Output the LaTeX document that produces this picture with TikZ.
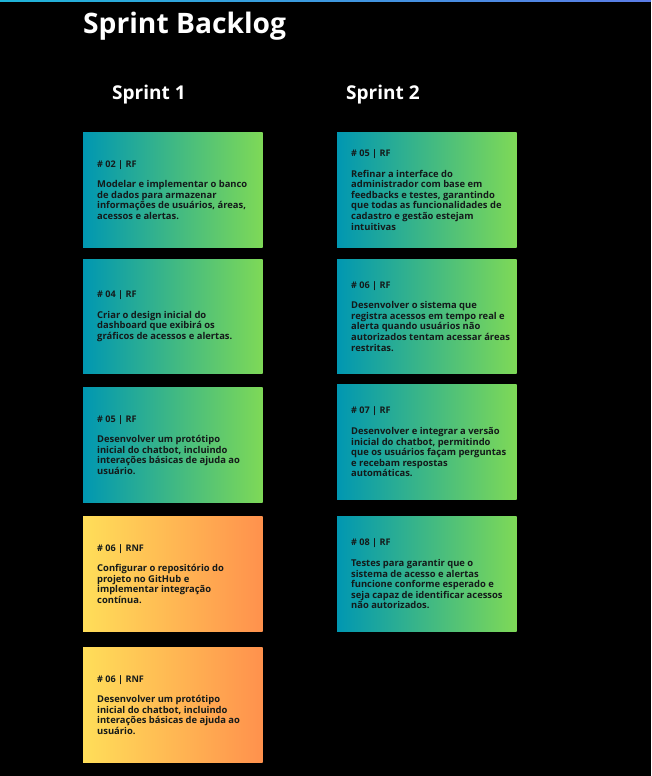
\documentclass[tikz,border=0pt]{standalone}
\usepackage{fontspec}
\setmainfont{Open Sans}
\definecolor{gA}{HTML}{0097B2}
\definecolor{gB}{HTML}{7ED957}
\definecolor{oA}{HTML}{FFDE59}
\definecolor{oB}{HTML}{FF914D}
\definecolor{lnA}{HTML}{1FB4D8}
\definecolor{lnB}{HTML}{5B7CE6}
\definecolor{ink}{HTML}{141A1A}
\tikzset{
  cardbox/.style={rectangle, anchor=north west, minimum width=179.5pt, minimum height=114.5pt, inner sep=0pt, outer sep=0pt, draw=none},
  greencard/.style={cardbox, left color=gA, right color=gB},
  orangecard/.style={cardbox, left color=oA, right color=oB},
  cardtext/.style={anchor=west, align=left, inner sep=0pt, text=ink, font=\fontsize{9.4}{10.6}\selectfont\bfseries},
  headtext/.style={anchor=base west, inner sep=0pt, text=white, font=\fontsize{19}{22}\selectfont\bfseries},
}
\newcommand{\hdr}[1]{{\fontsize{9.1}{10.6}\selectfont #1}\\[10pt]}
\begin{document}
\begin{tikzpicture}[x=1pt,y=-1pt]
\fill[black] (0,0) rectangle (651,776);
\useasboundingbox (0,0) rectangle (651,776);
\shade[left color=lnA, right color=lnB] (0,0) rectangle (651,1.6);
\node[anchor=base west, inner sep=0pt, text=white, font=\fontsize{28.2}{32}\selectfont\bfseries] (title) at (83,34) {Sprint Backlog};
\node[headtext] (s1) at (112,99.5) {Sprint 1};
\node[headtext] (s2) at (346,99.5) {Sprint 2};
% Sprint 1
\node[greencard] (a1) at (83,132.7) {};
\node[cardtext] (ta1) at ([xshift=14pt]a1.west) {\hdr{\# 02 | RF}Modelar e implementar o banco\\de dados para armazenar\\informações de usuários, áreas,\\acessos e alertas.};
\node[greencard] (a2) at (83,259) {};
\node[cardtext] (ta2) at ([xshift=14pt]a2.west) {\hdr{\# 04 | RF}Criar o design inicial do\\dashboard que exibirá os\\gráficos de acessos e alertas.};
\node[greencard] (a3) at (83,387.7) {};
\node[cardtext] (ta3) at ([xshift=14pt]a3.west) {\hdr{\# 05 | RF}Desenvolver um protótipo\\inicial do chatbot, incluindo\\interações básicas de ajuda ao\\usuário.};
\node[orangecard] (a4) at (83,516.7) {};
\node[cardtext] (ta4) at ([xshift=14pt]a4.west) {\hdr{\# 06 | RNF}Configurar o repositório do\\projeto no GitHub e\\implementar integração\\contínua.};
\node[orangecard] (a5) at (83,647.7) {};
\node[cardtext] (ta5) at ([xshift=14pt]a5.west) {\hdr{\# 06 | RNF}Desenvolver um protótipo\\inicial do chatbot, incluindo\\interações básicas de ajuda ao\\usuário.};
% Sprint 2
\node[greencard] (b1) at (337,132.7) {};
\node[cardtext] (tb1) at ([xshift=14pt]b1.west) {\hdr{\# 05 | RF}Refinar a interface do\\administrador com base em\\feedbacks e testes, garantindo\\que todas as funcionalidades de\\cadastro e gestão estejam\\intuitivas};
\node[greencard] (b2) at (337,259) {};
\node[cardtext] (tb2) at ([xshift=14pt]b2.west) {\hdr{\# 06 | RF}Desenvolver o sistema que\\registra acessos em tempo real e\\alerta quando usuários não\\autorizados tentam acessar áreas\\restritas.};
\node[greencard] (b3) at (337,384.7) {};
\node[cardtext] (tb3) at ([xshift=14pt]b3.west) {\hdr{\# 07 | RF}Desenvolver e integrar a versão\\inicial do chatbot, permitindo\\que os usuários façam perguntas\\e recebam respostas\\automáticas.};
\node[greencard] (b4) at (337,516.7) {};
\node[cardtext] (tb4) at ([xshift=14pt]b4.west) {\hdr{\# 08 | RF}Testes para garantir que o\\sistema de acesso e alertas\\funcione conforme esperado e\\seja capaz de identificar acessos\\não autorizados.};
\end{tikzpicture}
\end{document}
